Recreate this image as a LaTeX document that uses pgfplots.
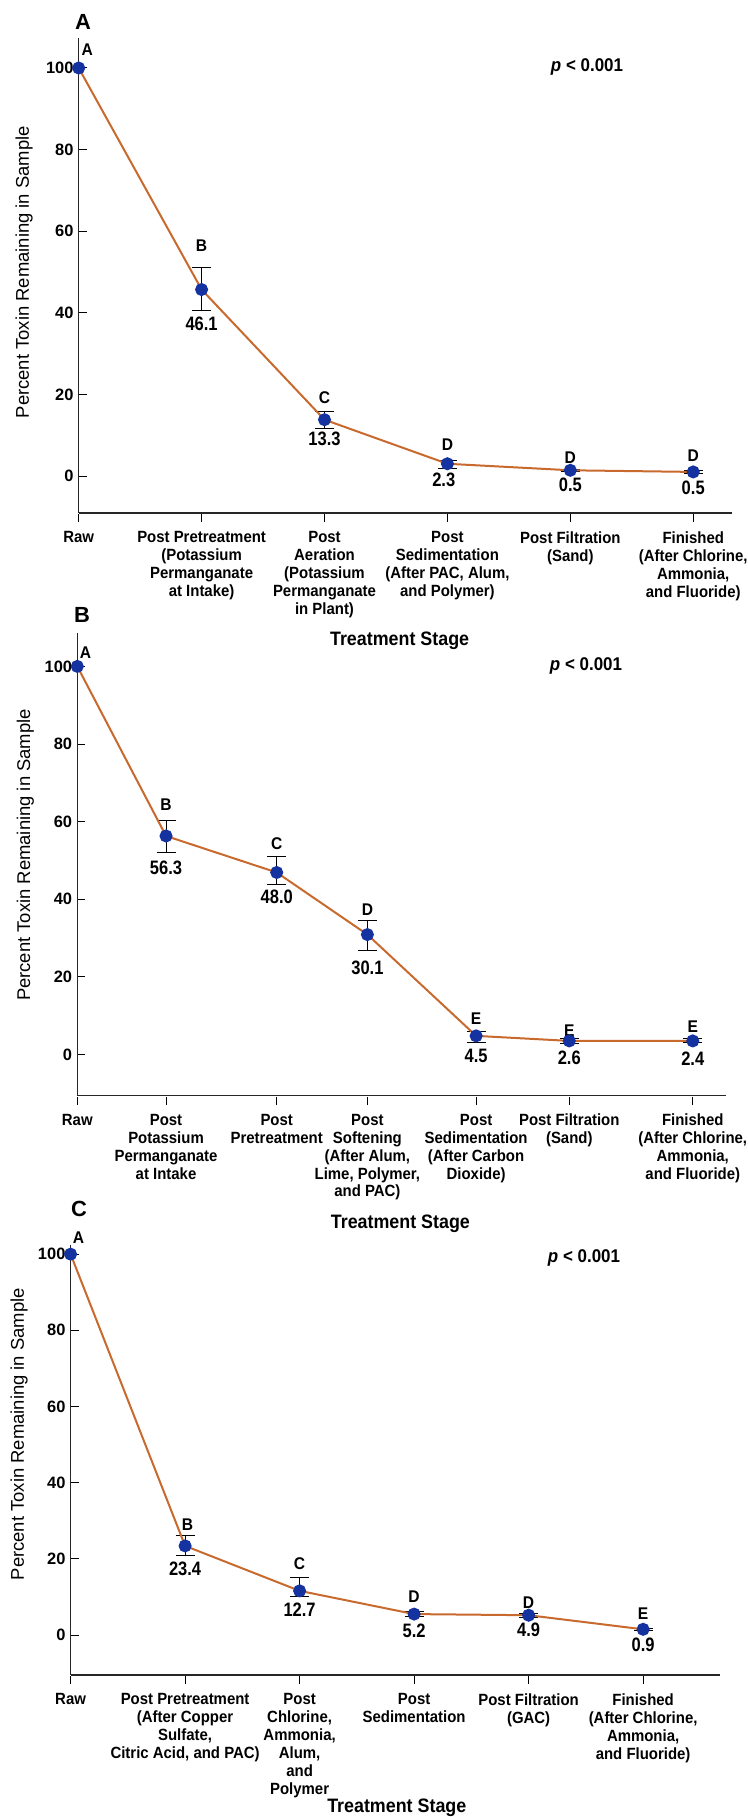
\documentclass[border=0pt]{standalone}
\usepackage{fontspec}
\setmainfont{Liberation Sans}
\newfontfamily\cf[FakeStretch=0.92]{Liberation Sans}
\newfontfamily\vf[FakeStretch=0.85]{Liberation Sans}
\usepackage{pgfplots}
\pgfplotsset{compat=1.18}
\definecolor{lineor}{RGB}{200,105,45}
\definecolor{dotblue}{RGB}{20,50,160}
\pgfplotsset{
 panel/.style={
  scale only axis, clip=false,
  axis lines=left, axis line style={-, line width=1.2bp, black!85},
  tick align=inside, major tick length=8bp,
  tick style={black, line width=1bp},
  major x tick style={yshift=-9bp},
  ytick={0,20,...,100},
  /pgf/number format/assume math mode=true,
  yticklabel style={font=\bfseries\fontsize{16.5}{16.5}\selectfont, inner xsep=0bp, xshift=-5bp},
  xticklabel style={font=\cf\bfseries\fontsize{16.3}{18}\selectfont, align=center, yshift=-15bp},
  ylabel={Percent Toxin Remaining in Sample},
  ylabel style={font=\fontsize{18.5}{19}\selectfont, anchor=center},
  xlabel={Treatment Stage},
  xlabel style={font=\cf\bfseries\fontsize{19.5}{19.5}\selectfont, anchor=center},
 },
 errs/.style={forget plot, draw=none, mark=none,
   error bars/.cd, y dir=both, y explicit,
   error bar style={draw=black, line width=1bp},
   error mark options={draw=black, rotate=90, mark size=9.5bp, line width=1bp}},
 ser/.style={lineor, line width=2bp, mark=*, mark size=5.5bp, mark options={draw=dotblue, fill=dotblue}},
}
\tikzset{
 lett/.style={font=\cf\bfseries\fontsize{17}{17}\selectfont},
 valu/.style={font=\vf\bfseries\fontsize{19.5}{19.5}\selectfont},
 plab/.style={font=\cf\bfseries\fontsize{18.5}{18.5}\selectfont},
}
\begin{document}
\begin{tikzpicture}
\useasboundingbox (0bp,0bp) rectangle (748bp,-1817bp);
\node[font=\bfseries\fontsize{22}{22}\selectfont] at (83bp,-22bp) {A};
\node[font=\bfseries\fontsize{22}{22}\selectfont] at (82bp,-615bp) {B};
\node[font=\bfseries\fontsize{22}{22}\selectfont] at (79bp,-1209bp) {C};
\node[plab] at (587bp,-67bp) {\textit{p} < 0.001};
\node[plab] at (586bp,-666bp) {\textit{p} < 0.001};
\node[plab] at (584bp,-1258bp) {\textit{p} < 0.001};

% Panel A
\begin{axis}[panel, at={(78.7bp,-513bp)}, anchor=south west,
  width=653.6bp, height=475bp,
  xmin=0, xmax=5.318, ymin=-9.07, ymax=107.35,
  xtick={0,1,2,3,4,5},
  xticklabels={Raw, {Post Pretreatment\\(Potassium\\Permanganate\\at Intake)}, {Post\\Aeration\\(Potassium\\Permanganate\\in Plant)}, {Post\\Sedimentation\\(After PAC, Alum,\\and Polymer)}, {Post Filtration\\(Sand)}, {Finished\\(After Chlorine,\\Ammonia,\\and Fluoride)}},
  ylabel style={at={(axis description cs:-0.0837,0.507)}},
  xlabel style={at={(axis description cs:0.491,0)}, yshift=-128bp},
]
\addplot[errs] coordinates {(0,100) (1,45.7) += (0,5.3) -= (0,5.1) (2,13.8) += (0,2.1) -= (0,2.1) (3,3.0) += (0,0.8) -= (0,1.1) (4,1.4) += (0,0.3) -= (0,0.3) (5,1.0) += (0,0.3) -= (0,0.3)};
\addplot[ser] coordinates {(0,100) (1,45.7) (2,13.8) (3,3.0) (4,1.4) (5,1.0)};
\node[lett] at (axis cs:0.07,104.5) {A};
\node[lett] at (axis cs:1,56.4) {B};
\node[lett] at (axis cs:2,19.3) {C};
\node[lett] at (axis cs:3,7.8) {D};
\node[lett] at (axis cs:4,4.6) {D};
\node[lett] at (axis cs:5,5.1) {D};
\node[valu] at (axis cs:1,37.4) {46.1};
\node[valu] at (axis cs:2,9.0) {13.3};
\node[valu] at (axis cs:2.97,-1.0) {2.3};
\node[valu] at (axis cs:4,-2.2) {0.5};
\node[valu] at (axis cs:5,-3.0) {0.5};
\end{axis}

% Panel B
\begin{axis}[panel, at={(77.3bp,-1095.5bp)}, anchor=south west,
  width=648.8bp, height=462.5bp,
  xmin=0, xmax=6.325, ymin=-10.57, ymax=108.6,
  xtick={0,0.865,1.944,2.828,3.888,4.796,6},
  xticklabels={Raw, {Post\\Potassium\\Permanganate\\at Intake}, {Post\\Pretreatment}, {Post\\Softening\\(After Alum,\\Lime, Polymer,\\and PAC)}, {Post\\Sedimentation\\(After Carbon\\Dioxide)}, {Post Filtration\\(Sand)}, {Finished\\(After Chlorine,\\Ammonia,\\and Fluoride)}},
  ylabel style={at={(axis description cs:-0.0801,0.52)}},
  xlabel style={at={(axis description cs:0.498,0)}, yshift=-128bp},
]
\addplot[errs] coordinates {(0,100) (0.865,56.3) += (0,4.1) -= (0,4.3) (1.944,46.9) += (0,4.1) -= (0,3.0) (2.828,30.9) += (0,3.6) -= (0,4.1) (3.888,4.8) += (0,1.0) -= (0,1.6) (4.796,3.5) += (0,0.6) -= (0,0.6) (6,3.5) += (0,0.5) -= (0,0.5)};
\addplot[ser] coordinates {(0,100) (0.865,56.3) (1.944,46.9) (2.828,30.9) (3.888,4.8) (4.796,3.5) (6,3.5)};
\node[lett] at (axis cs:0.08,103.6) {A};
\node[lett] at (axis cs:0.865,64.4) {B};
\node[lett] at (axis cs:1.944,54.4) {C};
\node[lett] at (axis cs:2.828,37.4) {D};
\node[lett] at (axis cs:3.888,9.3) {E};
\node[lett] at (axis cs:4.796,6.2) {E};
\node[lett] at (axis cs:6,7.2) {E};
\node[valu] at (axis cs:0.865,48.2) {56.3};
\node[valu] at (axis cs:1.944,40.5) {48.0};
\node[valu] at (axis cs:2.828,22.4) {30.1};
\node[valu] at (axis cs:3.888,-0.3) {4.5};
\node[valu] at (axis cs:4.796,-0.8) {2.6};
\node[valu] at (axis cs:6,-1.0) {2.4};
\end{axis}

% Panel C
\begin{axis}[panel, at={(70.6bp,-1675bp)}, anchor=south west,
  width=649.8bp, height=430bp,
  xmin=0, xmax=5.675, ymin=-10.5, ymax=102.4,
  xtick={0,1,2,3,4,5},
  xticklabels={Raw, {Post Pretreatment\\(After Copper\\Sulfate,\\Citric Acid, and PAC)}, {Post\\Chlorine,\\Ammonia,\\Alum,\\and\\Polymer}, {Post\\Sedimentation}, {Post Filtration\\(GAC)}, {Finished\\(After Chlorine,\\Ammonia,\\and Fluoride)}},
  ylabel style={at={(axis description cs:-0.0794,0.56)}},
  xlabel style={at={(axis description cs:0.502,0)}, yshift=-133bp},
]
\addplot[errs] coordinates {(0,100) (1,23.4) += (0,2.7) -= (0,2.4) (2,11.6) += (0,3.4) -= (0,1.6) (3,5.5) += (0,0.7) -= (0,0.7) (4,5.2) += (0,0.5) -= (0,0.5) (5,1.5) += (0,0.3) -= (0,0.3)};
\addplot[ser] coordinates {(0,100) (1,23.4) (2,11.6) (3,5.5) (4,5.2) (5,1.5)};
\node[lett] at (axis cs:0.07,104.4) {A};
\node[lett] at (axis cs:1.02,29.1) {B};
\node[lett] at (axis cs:2,18.8) {C};
\node[lett] at (axis cs:3,10.1) {D};
\node[lett] at (axis cs:4,8.6) {D};
\node[lett] at (axis cs:5,5.7) {E};
\node[valu] at (axis cs:1,17.5) {23.4};
\node[valu] at (axis cs:2,6.6) {12.7};
\node[valu] at (axis cs:3,1.0) {5.2};
\node[valu] at (axis cs:4,1.5) {4.9};
\node[valu] at (axis cs:5,-2.6) {0.9};
\end{axis}
\end{tikzpicture}
\end{document}
